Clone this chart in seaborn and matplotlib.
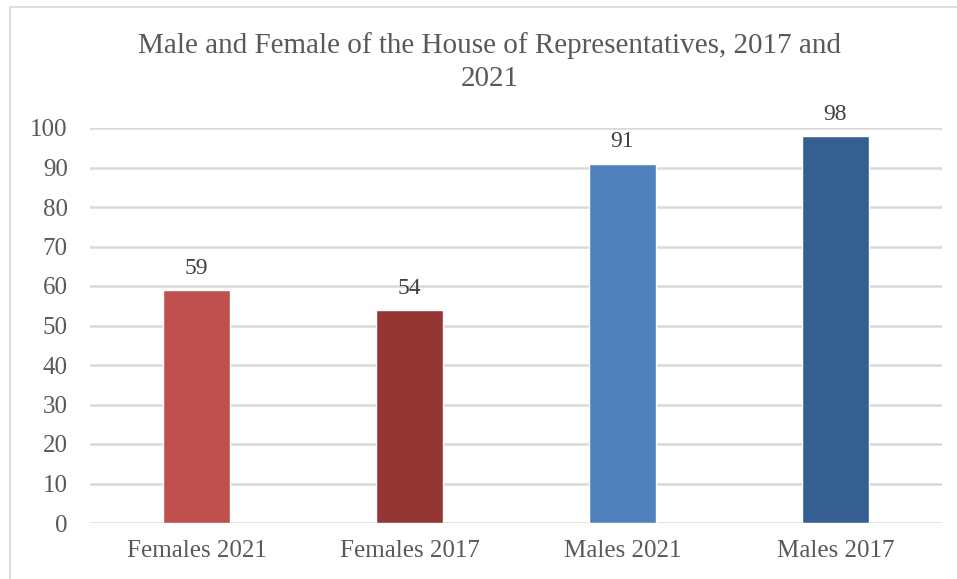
import pandas as pd
import matplotlib.pyplot as plt
import seaborn as sns
from matplotlib.patches import Rectangle

# chart data
categories = ['Females 2021', 'Females 2017', 'Males 2021', 'Males 2017']
members = [59, 54, 91, 98]
bar_colors = ['#C0504D', '#943634', '#4F81BD', '#365F91']

df = pd.DataFrame({'group': categories, 'members': members})

sns.set_style('white')
plt.rcParams['font.family'] = ['Liberation Serif', 'DejaVu Serif']

fig = plt.figure(figsize=(9.57, 5.79), dpi=100)
ax = fig.add_axes([90 / 957, 1 - 523 / 579, 852 / 957, 395 / 579])

sns.barplot(x='group', y='members', hue='group', data=df, palette=bar_colors,
            legend=False, width=0.315, saturation=1, ax=ax)

ax.set_ylim(0, 100)
ax.set_yticks(range(0, 101, 10))
ax.yaxis.grid(True, color='#D9D9D9', linewidth=1.8)
ax.set_axisbelow(True)
for side in ['top', 'right', 'left', 'bottom']:
    ax.spines[side].set_visible(False)
ax.tick_params(axis='both', length=0, labelsize=18, labelcolor='#595959')
ax.tick_params(axis='y', pad=16)
ax.tick_params(axis='x', pad=12)
ax.set_xlabel('')
ax.set_ylabel('')

# value labels above bars
for container in ax.containers:
    ax.bar_label(container, padding=8, fontsize=17, color='#404040')

# title
fig.text(490 / 957, 1 - 46 / 579, 'Male and Female of the House of Representatives, 2017 and',
         ha='center', va='center', fontsize=21, color='#595959')
fig.text(490 / 957, 1 - 79 / 579, '2021', ha='center', va='center', fontsize=21, color='#595959')

# chart area border
fig.patches.append(Rectangle((10 / 957, -0.05), 1.2, 1 - 7 / 579 + 0.05, transform=fig.transFigure,
                             fill=False, edgecolor='#D9D9D9', linewidth=1.2))

fig.savefig('out.png', dpi=100)
